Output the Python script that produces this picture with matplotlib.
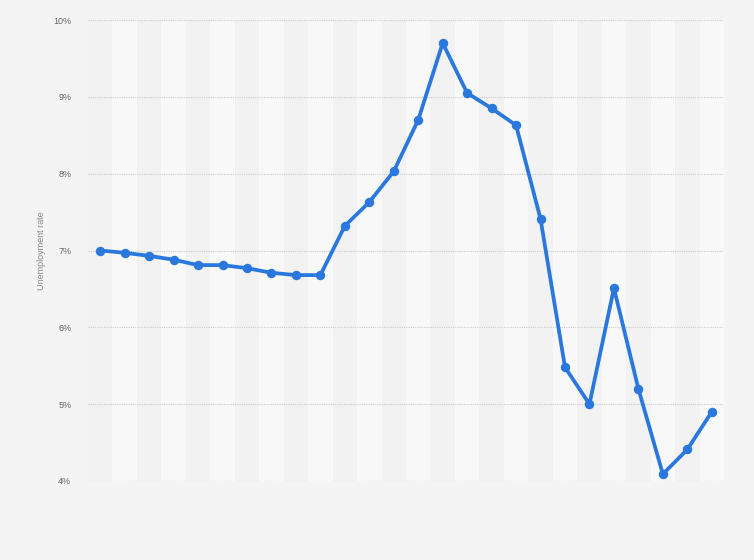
import matplotlib
matplotlib.use('Agg')
import matplotlib.pyplot as plt
import numpy as np

# 실업률 데이터
rates = [7.00, 6.97, 6.93, 6.88, 6.81, 6.81, 6.77, 6.71, 6.68, 6.68,
         7.32, 7.63, 8.03, 8.70, 9.70, 9.05, 8.85, 8.63, 7.41, 5.48,
         5.00, 6.51, 5.20, 4.09, 4.41, 4.90]
y_ticks = [4, 5, 6, 7, 8, 9, 10]
y_tick_labels = ['4%', '5%', '6%', '7%', '8%', '9%', '10%']

plt.rcParams['font.family'] = ['Liberation Sans', 'DejaVu Sans']

fig = plt.figure(figsize=(7.54, 5.6), dpi=100)
fig.patch.set_facecolor('#f4f4f4')
ax = fig.add_axes([88 / 754, 1 - 481 / 560, 636 / 754, 461 / 560])
ax.set_facecolor('#f4f4f4')

x = np.arange(len(rates))

# 줄무늬 배경
for i in x:
    color = '#f2f2f2' if i % 2 == 0 else '#f8f8f8'
    ax.axvspan(i - 0.5, i + 0.5, color=color, zorder=0, lw=0)

ax.plot(x, rates, color='#2a77dd', linewidth=2.7, marker='o',
        markersize=5.8, zorder=3, solid_joinstyle='round')

ax.set_xlim(-0.5, len(rates) - 0.5)
ax.set_ylim(4, 10)
ax.set_yticks(y_ticks)
ax.set_yticklabels(y_tick_labels)
ax.set_xticks([])
ax.tick_params(axis='y', length=0, pad=12, labelsize=6.5, labelcolor='#666666')
ax.yaxis.grid(True, color='#cccccc', linestyle=(0, (1, 1)), linewidth=0.8, zorder=1)
for s in ax.spines.values():
    s.set_visible(False)

ax.set_ylabel('Unemployment rate', fontsize=6.5, color='#888888', labelpad=5)

fig.savefig('out.png', dpi=100, facecolor=fig.get_facecolor())
